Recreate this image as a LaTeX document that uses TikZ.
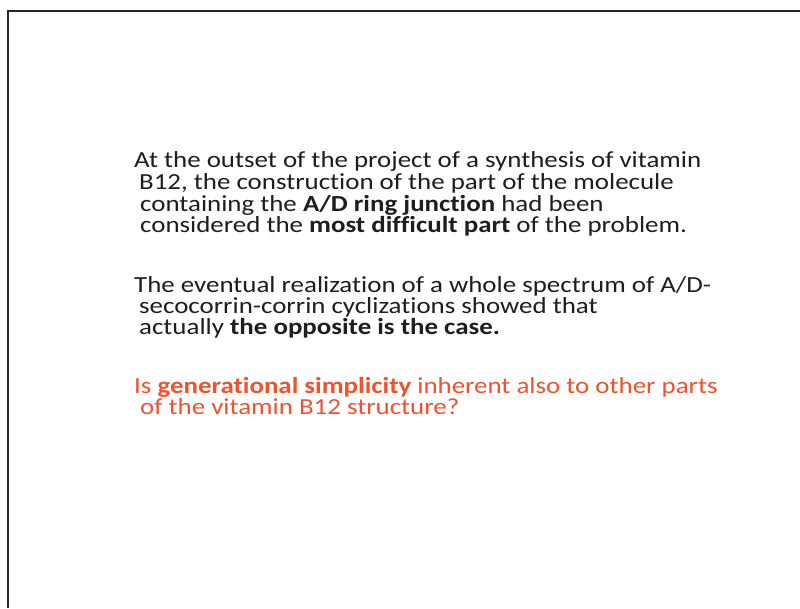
\documentclass[tikz,border=0pt]{standalone}
\usepackage{fontspec}
\setmainfont{Carlito}[Ligatures={NoCommon}]
\definecolor{txt}{RGB}{30,30,30}
\definecolor{redtxt}{RGB}{240,82,45}
\newcommand{\wide}[1]{\scalebox{1.17}[1]{#1}}
\begin{document}
\begin{tikzpicture}[x=1pt,y=-1pt,
  ln/.style={anchor=base west,inner sep=0pt,font=\fontsize{23}{23}\selectfont,text=txt},
  rl/.style={ln,text=redtxt}]
\useasboundingbox (0,0) rectangle (800,608);
\fill[white] (0,0) rectangle (800,608);
\draw[line width=1.6pt,black!85] (8,608) coordinate (bl) -- (8,11) coordinate (tl) -- (800,11) coordinate (tr);
\node[ln] (a1) at (134,167) {\wide{At the outset of the project of a synthesis of vitamin}};
\node[ln] (a2) at (139,189) {\wide{B12, the construction of the part of the molecule}};
\node[ln] (a3) at (140,211) {\wide{containing the \textbf{A/D ring junction} had been}};
\node[ln] (a4) at (140,232) {\wide{considered the \textbf{most difficult part} of the problem.}};
\node[ln] (b1) at (134,292) {\wide{The eventual realization of a whole spectrum of A/D-}};
\node[ln] (b2) at (139,313) {\wide{secocorrin-corrin cyclizations showed that}};
\node[ln] (b3) at (139,334) {\wide{actually \textbf{the opposite is the case.}}};
\node[rl] (c1) at (134,393) {\wide{Is \textbf{generational simplicity} inherent also to other parts}};
\node[rl] (c2) at (140,414) {\wide{of the vitamin B12 structure?}};
\end{tikzpicture}
\end{document}
